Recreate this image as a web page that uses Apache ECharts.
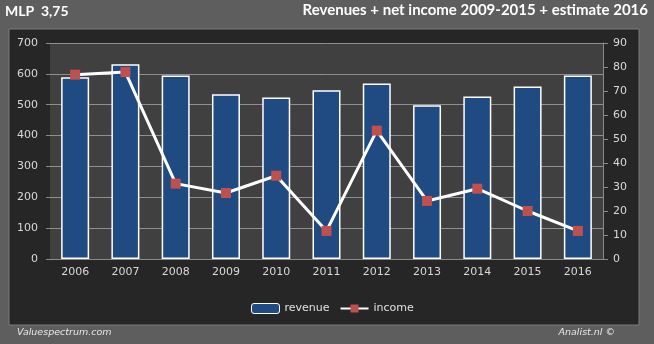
<!DOCTYPE html>
<html><head><meta charset="utf-8">
<script src="https://cdn.jsdelivr.net/npm/echarts@6/dist/echarts.min.js"></script>
<style>html,body{margin:0;padding:0;background:#5e5e5e}#c{width:654px;height:344px}</style>
</head><body><div id="c"></div>
<script>
const years = ['2006','2007','2008','2009','2010','2011','2012','2013','2014','2015','2016'];
const revenue = [589, 631, 595, 534, 523, 547, 569, 498, 527, 559, 595];
const income = [76.8, 77.9, 31.4, 27.5, 34.7, 11.7, 53.5, 24.2, 29.3, 20.0, 11.7];
const leftTicks = {min: 0, max: 700, interval: 100};
const rightTicks = {min: 0, max: 90, interval: 10};

const chart = echarts.init(document.getElementById('c'), null, {renderer: 'canvas'});
const axisFont = {color: '#d8d8d8', fontFamily: 'DejaVu Sans', fontSize: 11};
chart.setOption({
  backgroundColor: '#5e5e5e',
  animation: false,
  graphic: [
    {type: 'rect', shape: {x: 9, y: 29, width: 630, height: 296}, style: {fill: '#262626', stroke: '#7a7a7a', lineWidth: 1}, z: -10},
    {type: 'text', left: 5, top: 4, style: {text: 'MLP  3,75', fill: '#ffffff', font: 'bold 14px Lato'}},
    {type: 'text', right: 6, top: 3, style: {text: 'Revenues + net income 2009-2015 + estimate 2016', fill: '#ffffff', font: 'bold 15px Lato'}},
    {type: 'text', left: 17, top: 328, style: {text: 'Valuespectrum.com', fill: '#e8e8e8', font: 'italic 9.5px "DejaVu Sans"'}},
    {type: 'text', right: 39, top: 328, style: {text: 'Analist.nl \u00a9', fill: '#e8e8e8', font: 'italic 9.5px "DejaVu Sans"'}}
  ],
  grid: {left: 50, right: 51, top: 43, bottom: 85, show: true, backgroundColor: '#404040', borderWidth: 0},
  legend: {
    left: 246, top: 298, itemWidth: 28, itemHeight: 10, itemGap: 10,
    textStyle: {color: '#e0e0e0', fontFamily: 'DejaVu Sans', fontSize: 11},
    data: [{name: 'revenue', itemStyle: {borderWidth: 1}}, 'income']
  },
  xAxis: {
    type: 'category', data: years,
    axisLine: {lineStyle: {color: '#8a8a8a'}},
    axisTick: {show: false},
    axisLabel: Object.assign({margin: 8}, axisFont)
  },
  yAxis: [
    {type: 'value', min: leftTicks.min, max: leftTicks.max, interval: leftTicks.interval,
     axisLine: {show: false}, axisTick: {show: true, length: 4, lineStyle: {color: '#8a8a8a'}},
     splitLine: {lineStyle: {color: '#8f8f8f', width: 1}},
     axisLabel: Object.assign({margin: 12}, axisFont)},
    {type: 'value', min: rightTicks.min, max: rightTicks.max, interval: rightTicks.interval,
     axisLine: {show: true, lineStyle: {color: '#8a8a8a'}},
     axisTick: {show: true, length: 5, lineStyle: {color: '#8a8a8a'}},
     splitLine: {show: false},
     axisLabel: Object.assign({margin: 10}, axisFont)}
  ],
  series: [
    {name: 'revenue', type: 'bar', data: revenue, barWidth: 28, yAxisIndex: 0,
     itemStyle: {color: '#1f4a82', borderColor: '#ffffff', borderWidth: 1.5}},
    {name: 'income', type: 'line', data: income, yAxisIndex: 1,
     symbol: 'rect', symbolSize: 10,
     lineStyle: {color: '#ffffff', width: 3},
     itemStyle: {color: '#c0504d', borderWidth: 0}}
  ]
});
</script>
</body></html>
